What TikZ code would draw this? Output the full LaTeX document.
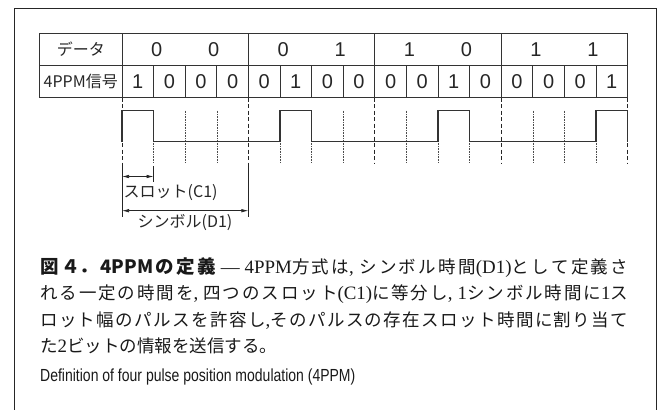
\documentclass[tikz,border=0pt]{standalone}
\usepackage{fontspec}
\setmainfont{Liberation Serif}[Scale=1.08]
\setsansfont{Liberation Sans}
\newfontfamily\jp{Noto Sans CJK JP}
\newfontfamily\narrowsans{Liberation Sans}[FakeStretch=0.8]
\usetikzlibrary{arrows.meta}
\XeTeXlinebreaklocale "ja"
\XeTeXlinebreakskip=0pt plus 4pt minus 0.5pt
\newcommand\rl[1]{{\rmfamily #1}}
\begin{document}
\begin{tikzpicture}[x=1pt,y=-1pt,
  frame/.style={line width=0.9pt, draw=black!85},
  grid/.style={line width=0.9pt, draw=black!80},
  symdash/.style={line width=1pt, draw=black!85, dash pattern=on 4pt off 2.5pt},
  slotdot/.style={line width=0.5pt, draw=black!70, dash pattern=on 0.7pt off 0.9pt},
  wave/.style={line width=1.3pt, draw=black!80, line join=miter},
  dim/.style={line width=0.7pt, draw=black!85, {Latex[length=7pt,width=3.5pt]}-{Latex[length=7pt,width=3.5pt]}},
  ext/.style={line width=0.7pt, draw=black!85},
  cell/.style={font=\fontsize{20}{20}\selectfont\sffamily, text=black!85, inner sep=0pt},
  lab/.style={font=\jp\fontsize{16}{16}\selectfont, text=black!85, inner sep=0pt},
  dimlab/.style={font=\jp\fontsize{16}{16}\selectfont, text=black!85, inner sep=0pt},
]
\useasboundingbox (0,0) rectangle (662,410);
% outer frame (open at bottom)
\draw[frame] (14.7,410) -- (14.7,8.3) -- (656,8.3) -- (656,410);
% table
\draw[grid] (39.5,33.5) rectangle (627.6,97.7);
\draw[grid] (39.5,65.5) -- (627.6,65.5);
\draw[grid] (122,33.5) -- (122,97.7);
\foreach \k in {1,2,3} \draw[grid] ({122+126.4*\k},33.5) -- ({122+126.4*\k},97.7);
\foreach \i in {1,2,3,5,6,7,9,10,11,13,14,15} \draw[grid] ({122+31.6*\i},65.5) -- ({122+31.6*\i},97.7);
\node[lab] (hdata) at (80.75,49.5) {データ};
\node[lab] (hsig) at (80.75,81.6) {4PPM信号};
% data bits
\foreach \a/\b [count=\k from 0] in {0/0,0/1,1/0,1/1} {
  \node[cell] (d\k a) at ({122+126.4*\k+63.2-28.5},49.8) {\a};
  \node[cell] (d\k b) at ({122+126.4*\k+63.2+28.5},49.8) {\b};
}
% signal bits
\foreach \v [count=\i from 0] in {1,0,0,0,0,1,0,0,0,0,1,0,0,0,0,1}
  \node[cell] (s\i) at ({122+31.6*\i+15.8},81.9) {\v};
% symbol boundaries (dashed)
\foreach \k in {0,...,4} \draw[symdash] ({122+126.4*\k},97.7) -- ({122+126.4*\k},164);
% slot boundaries (dotted)
\foreach \i in {1,2,3,5,6,7,9,10,11,13,14,15} \draw[slotdot] ({122+31.6*\i},110.7) -- ({122+31.6*\i},162);
% waveform
\draw[wave] (122,141.7) -- (122,110.7) -- (153.6,110.7) -- (153.6,141.7)
  -- (280,141.7) -- (280,110.7) -- (311.6,110.7) -- (311.6,141.7)
  -- (438,141.7) -- (438,110.7) -- (469.6,110.7) -- (469.6,141.7)
  -- (596,141.7) -- (596,110.7) -- (627.6,110.7) -- (627.6,141.7);
% dimension lines
\coordinate (e1t) at (122,164); \coordinate (e1b) at (122,217);
\coordinate (e2t) at (248.4,164); \coordinate (e2b) at (248.4,217);
\coordinate (e3t) at (153.6,166); \coordinate (e3b) at (153.6,182);
\draw[ext] (e1t) -- (e1b);
\draw[ext] (e2t) -- (e2b);
\draw[ext] (e3t) -- (e3b);
\coordinate (a1l) at (122,176.5); \coordinate (a1r) at (153.6,176.5);
\coordinate (a2l) at (122,210.7); \coordinate (a2r) at (248.4,210.7);
\draw[dim] (a1l) -- (a1r);
\draw[dim] (a2l) -- (a2r);
\node[dimlab, anchor=west] (slot) at (123.5,192.5) {スロット(C1)};
\node[dimlab] (sym) at (185,222.5) {シンボル(D1)};
% caption
\node[anchor=base west, inner sep=0pt, text width=588pt, align=justify, text=black!90,
  font=\jp\fontsize{17.5}{26.5}\selectfont] (cap) at (40,273)
 {{\bfseries\fontsize{18.5}{26.5}\selectfont 図４．4PPMの定義} \rl{—} \rl{4PPM}方式は\rl{,} シンボル時間\rl{(D1)}として定義さ\linebreak
  れる一定の時間を\rl{,} 四つのスロット\rl{(C1)}に等分し\rl{,} \rl{1}シンボル時間に\rl{1}ス\linebreak
  ロット幅のパルスを許容し\rl{,}そのパルスの存在スロット時間に割り当て\linebreak
  た\rl{2}ビットの情報を送信する。};
\node[anchor=base west, inner sep=0pt, text=black!90, font=\narrowsans\fontsize{17.5}{17.5}\selectfont] (eng) at (40,381)
 {Definition of four pulse position modulation (4PPM)};
\end{tikzpicture}
\end{document}
